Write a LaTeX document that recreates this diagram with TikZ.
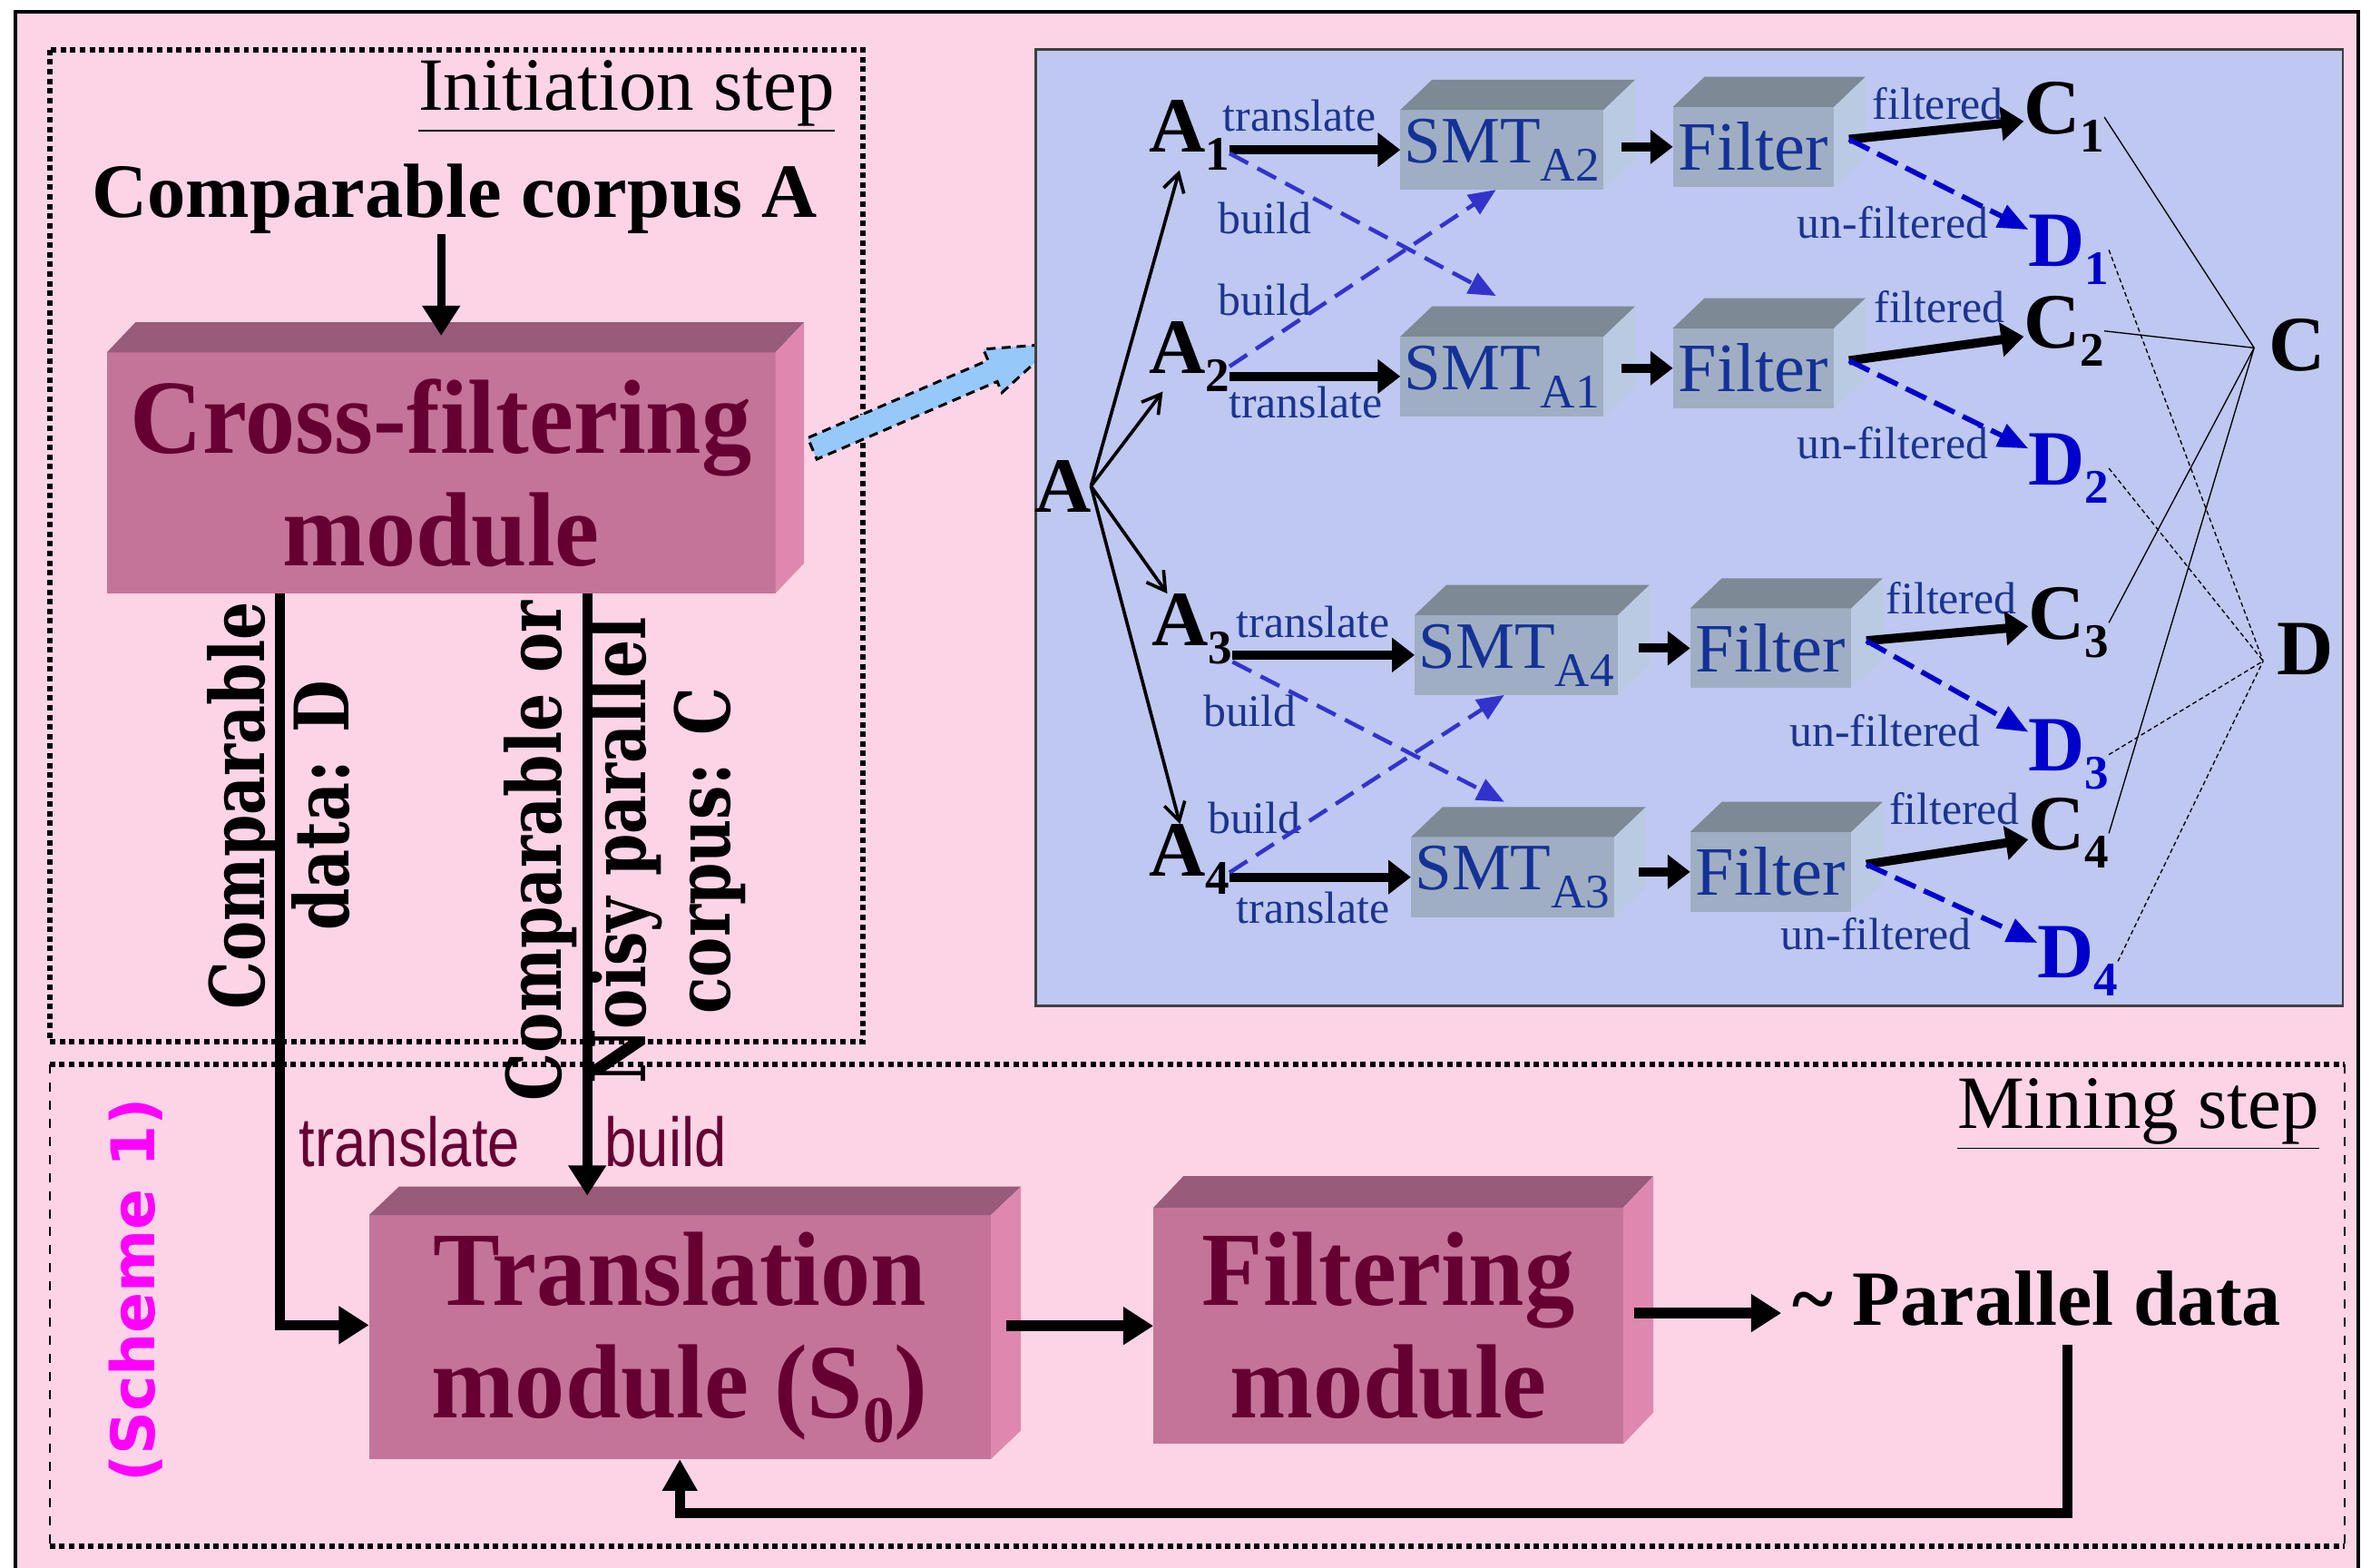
\documentclass[tikz,border=0pt]{standalone}
\usepackage{fontspec}
\setmainfont{Liberation Serif}
\newfontfamily\modfont[FakeStretch=0.95]{Liberation Serif}
\newfontfamily\centfont[FakeStretch=0.8]{DejaVu Serif}
\newfontfamily\schemefont{DejaVu Sans}
\newfontfamily\arialfont[FakeStretch=0.83]{Liberation Sans}
\usetikzlibrary{arrows.meta,shapes.arrows,positioning}

\definecolor{bgpink}{RGB}{252,212,230}
\definecolor{panelblue}{RGB}{190,200,240}
\definecolor{modfront}{RGB}{196,116,153}
\definecolor{modtop}{RGB}{152,91,122}
\definecolor{modside}{RGB}{222,136,176}
\definecolor{maroon}{RGB}{102,0,51}
\definecolor{smtfront}{RGB}{160,174,196}
\definecolor{smttop}{RGB}{126,137,150}
\definecolor{smtside}{RGB}{186,202,226}
\definecolor{navy}{RGB}{20,50,150}
\definecolor{labnavy}{RGB}{28,52,142}
\definecolor{dblue}{RGB}{0,0,204}
\definecolor{xblue}{RGB}{51,51,204}
\definecolor{arrowblue}{RGB}{150,200,250}
\definecolor{schemepink}{RGB}{255,0,255}

\newcommand{\lowsub}[1]{\raisebox{-6pt}{\fontsize{16}{16}\selectfont #1}}
\newcommand{\cubefaces}[4]{%
  \fill[#3] (#1.north west) -- ([shift={#2}]#1.north west) -- ([shift={#2}]#1.north east) -- (#1.north east) -- cycle;
  \fill[#4] (#1.north east) -- ([shift={#2}]#1.north east) -- ([shift={#2}]#1.south east) -- (#1.south east) -- cycle;}

\begin{document}
\begin{tikzpicture}
[x=0.5pt, y=-0.5pt, >={Triangle[length=10pt, width=12pt]}]
\tikzstyle{module}=[rectangle, fill=modfront, inner sep=0pt, outer sep=0pt, text=maroon, align=center, font=\modfont\bfseries\fontsize{35}{37.5}\selectfont]
\tikzstyle{smtbox}=[rectangle, fill=smtfront, inner sep=0pt, outer sep=0pt, minimum width=67.5pt, minimum height=26.5pt, text=navy, font=\fontsize{22}{24}\selectfont]
\tikzstyle{filtbox}=[smtbox, minimum width=53.5pt, font=\fontsize{23}{24}\selectfont]
\tikzstyle{letter}=[inner sep=0pt, outer sep=0pt, anchor=base west, font=\bfseries\fontsize{26}{28}\selectfont]
\tikzstyle{lab}=[inner sep=0pt, text=labnavy, font=\fontsize{15}{16}\selectfont]
\tikzstyle{steplab}=[inner sep=0pt, font=\fontsize{25}{28}\selectfont]
\tikzstyle{vlab}=[inner sep=0pt, rotate=90, align=center, font=\centfont\bfseries\fontsize{25}{28}\selectfont]
\tikzstyle{flowlab}=[inner sep=0pt, text=maroon, font=\arialfont\fontsize{23}{24}\selectfont]
\tikzstyle{stepframe}=[line width=1.8pt, dash pattern=on 1.8pt off 1.4pt]
\tikzstyle{bigarr}=[line width=2.8pt, ->]
\tikzstyle{modarr}=[line width=3.6pt, -{Triangle[length=10pt, width=12pt]}]
\tikzstyle{aarr}=[line width=1.1pt, -{Straight Barb[length=6pt, width=7pt]}]
\tikzstyle{tarr}=[line width=3pt, -{Triangle[length=7.5pt, width=11pt]}]
\tikzstyle{xdash}=[xblue, line width=1.35pt, dash pattern=on 7pt off 3.5pt, -{Triangle[length=9pt, width=7.5pt]}]
\tikzstyle{udash}=[dblue, line width=1.7pt, dash pattern=on 7.5pt off 3pt, -{Triangle[length=10pt, width=8pt]}]
\tikzstyle{tocline}=[line width=0.4pt]
\tikzstyle{todline}=[line width=0.4pt, dash pattern=on 1.5pt off 1pt]

\useasboundingbox (0,0) rectangle (1568,1041);
\fill[bgpink] (10,8) rectangle (1566,1050);
\draw[line width=1.2pt] (10,8) rectangle (1566,1050);

\draw[stepframe] (33,33) rectangle (573,692);
\draw[stepframe] (33,707) -- (1557,707) (33,1027) -- (1557,1027);
\draw[dashed, line width=0.7pt] (33,707) -- (33,1027) (1557,707) -- (1557,1027);

\node[steplab] (init) at (416,64) {\underline{Initiation step}};
\node[steplab, font=\bfseries\fontsize{25.5}{28}\selectfont] (corpA) at (302,132) {Comparable corpus A};
\node[module, minimum width=222pt, minimum height=80pt] (cross) at (293,314) {Cross-filtering\\module};
\cubefaces{cross}{(19,-20)}{modtop}{modside}

\node[module, minimum width=206.5pt, minimum height=81pt] (trans) at (451.5,888) {Translation\\module (S\raisebox{-8pt}{\fontsize{22}{22}\selectfont 0})};
\cubefaces{trans}{(20,-19)}{modtop}{modside}
\node[module, minimum width=156pt, minimum height=78.5pt] (filtM) at (922,880.5) {Filtering\\module};
\cubefaces{filtM}{(20,-21)}{modtop}{modside}

\node[steplab, font=\bfseries\fontsize{26}{28}\selectfont, anchor=base west] (par) at (1190,880) {\textasciitilde\ Parallel data};
\node[steplab] (mining) at (1420,740) {\underline{Mining step}};
\node[inner sep=0pt, rotate=90, text=schemepink, font=\schemefont\bfseries\fontsize{20}{22}\selectfont] (scheme) at (90,857) {(Scheme 1)};

\node[vlab] (vD) at (185,535) {Comparable\\data: D};
\node[vlab] (vC) at (415,565) {Comparable or\\Noisy parallel\\corpus: C};
\node[flowlab] (trl) at (272,758) {translate};
\node[flowlab] (bld) at (442,758) {build};

\draw[bigarr, shorten >=5.5pt] (corpA.south -| cross.north) -- (cross.north);
\draw[bigarr, line width=3.2pt] ([xshift=57.5pt]cross.south west) |- ([yshift=4pt]trans.west);
\coordinate (bstart) at ([xshift=159.5pt]cross.south west);
\draw[bigarr, line width=3.2pt, shorten >=6.5pt] (bstart) -- (bstart |- trans.north);
\draw[modarr] ([xshift=-49pt]filtM.west) -- (filtM.west);
\coordinate (parin) at ([shift={(-7,-8)}]par.base west);
\draw[modarr] (filtM.east |- parin) ++(7,0) -- (parin);
\draw[line width=3.4pt, -{Triangle[length=10.5pt, width=11pt]}] ([shift={(183,13)}]par.base west) |- ([yshift=-18pt]trans.south) -- (trans.south);

\node[single arrow, draw, dash pattern=on 3pt off 2pt, line width=0.9pt, fill=arrowblue, inner xsep=0pt, inner ysep=3.4pt, minimum height=88pt, single arrow head extend=4pt, single arrow tip angle=38, rotate=23.3] (zoom) at (610,267.5) {};

\draw[fill=panelblue, line width=0.8pt, draw=black!75] (688,33) rectangle (1556,668);

\node[smtbox] (smtA2) at (997.5,99.5) {SMT\lowsub{A2}};
\node[smtbox] (smtA1) at (997.5,250) {SMT\lowsub{A1}};
\node[smtbox] (smtA4) at (1007,435) {SMT\lowsub{A4}};
\node[smtbox] (smtA3) at (1004.5,582.5) {SMT\lowsub{A3}};
\node[filtbox] (filt1) at (1164.5,97.5) {Filter};
\node[filtbox] (filt2) at (1164.5,244.5) {Filter};
\node[filtbox] (filt3) at (1176,430.5) {Filter};
\node[filtbox] (filt4) at (1176,579) {Filter};
\foreach \s in {smtA2,smtA1,smtA4,smtA3,filt1,filt2,filt3,filt4}
  {\cubefaces{\s}{(21,-20)}{smttop}{smtside}}

\node[letter] (A) at (687,340) {A};
\node[letter] (A1) at (763,101) {A\lowsub{1}};
\node[letter] (A2) at (763,248) {A\lowsub{2}};
\node[letter] (A3) at (765,428.5) {A\lowsub{3}};
\node[letter] (A4) at (763,581.6) {A\lowsub{4}};
\node[letter] (C1) at (1344,89) {C\lowsub{1}};
\node[letter] (C2) at (1344,231) {C\lowsub{2}};
\node[letter] (C3) at (1347,424.6) {C\lowsub{3}};
\node[letter] (C4) at (1347,564.6) {C\lowsub{4}};
\node[letter, text=dblue] (D1) at (1347,177) {D\lowsub{1}};
\node[letter, text=dblue] (D2) at (1347,322) {D\lowsub{2}};
\node[letter, text=dblue] (D3) at (1347,512) {D\lowsub{3}};
\node[letter, text=dblue] (D4) at (1353,649.4) {D\lowsub{4}};
\node[letter] (C) at (1507,246) {C};
\node[letter] (D) at (1512,448) {D};
\coordinate (Cpt) at (1497,231);
\coordinate (Dpt) at (1503,439);

\node[lab] (tr1) at (863,77) {translate};
\node[lab] (bu1) at (840,145) {build};
\node[lab] (bu2) at (840,199) {build};
\node[lab] (tr2) at (867,267) {translate};
\node[lab] (fi1) at (1287,69) {filtered};
\node[lab] (un1) at (1257,148) {un-filtered};
\node[lab] (fi2) at (1288,204) {filtered};
\node[lab] (un2) at (1257,294) {un-filtered};
\node[lab] (tr3) at (872,413) {translate};
\node[lab] (bu3) at (830,472) {build};
\node[lab] (bu4) at (833,543) {build};
\node[lab] (tr4) at (872,603) {translate};
\node[lab] (fi3) at (1296,397) {filtered};
\node[lab] (un3) at (1252,485) {un-filtered};
\node[lab] (fi4) at (1298,537) {filtered};
\node[lab] (un4) at (1246,620) {un-filtered};

\foreach \i in {1,...,4} \draw[aarr] (A.east) -- (A\i);
\draw[tarr] (A1.east |- smtA2) -- (smtA2);
\draw[tarr] (A2.east |- smtA1) -- (smtA1);
\draw[tarr] (A3.east |- smtA4) -- (smtA4);
\draw[tarr] (A4.east |- smtA3) -- (smtA3);
\draw[xdash] ([yshift=-6pt]A1.east) -- ([shift={(-4,-27)}]smtA1.north);
\draw[xdash] ([yshift=-3.25pt]A2.east) -- ([xshift=-2pt]smtA2.south);
\draw[xdash] ([yshift=-11pt]A3.east) -- ([shift={(-5.5,-23.5)}]smtA3.north);
\draw[xdash] ([yshift=-4.5pt]A4.east) -- ([xshift=-4pt]smtA4.south);
\foreach \f in {1,...,4} {
  \draw[tarr] ([xshift=-17pt]filt\f.west) -- (filt\f.west);
  \draw[tarr] ([shift={(10,-5)}]filt\f.east) -- (C\f);
  \draw[udash] ([shift={(10,-5)}]filt\f.east) -- (D\f);
  \draw[tocline] (C\f.east) -- (Cpt);
  \draw[todline] (D\f.east) -- (Dpt);
}

\end{tikzpicture}
\end{document}
